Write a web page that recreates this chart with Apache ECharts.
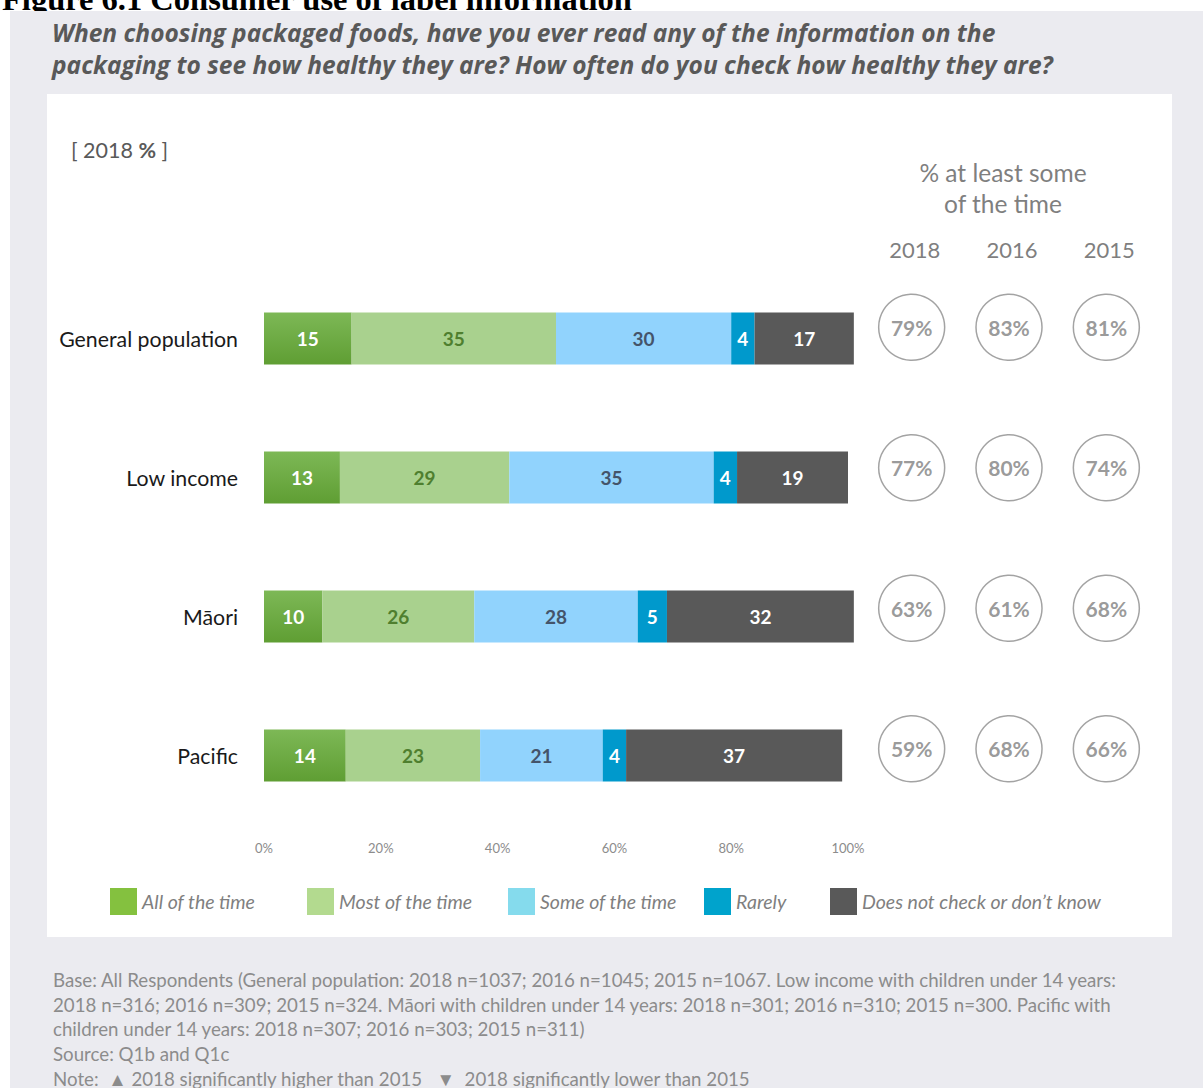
<!DOCTYPE html>
<html>
<head>
<meta charset="utf-8">
<script src="https://cdn.jsdelivr.net/npm/echarts@6/dist/echarts.min.js"></script>
<style>
  html, body { margin: 0; padding: 0; background: #ffffff; }
  #chart { width: 1203px; height: 1088px; }
</style>
</head>
<body>
<div id="chart"></div>
<script>
// Groups surveyed (top to bottom)
const groups = ['General population', 'Low income', 'Māori', 'Pacific'];

// 2018 responses, % of each group
const allOfTime   = [15, 13, 10, 14];
const mostOfTime  = [35, 29, 26, 23];
const someOfTime  = [30, 35, 28, 21];
const rarely      = [4, 4, 5, 4];
const doesNotCheck = [17, 19, 32, 37];

// Percentage axis ticks
const pctTicks = [0, 20, 40, 60, 80, 100];

// % checking at least some of the time, by survey year
const years = ['2018', '2016', '2015'];
const atLeastSome2018 = [79, 77, 63, 59];
const atLeastSome2016 = [83, 80, 61, 68];
const atLeastSome2015 = [81, 74, 68, 66];

const seriesNames = ['All of the time', 'Most of the time', 'Some of the time', 'Rarely', 'Does not check or don\u2019t know'];

const footnoteLines = [
  'Base: All Respondents (General population: 2018 n=1037; 2016 n=1045; 2015 n=1067. Low income with children under 14 years:',
  '2018 n=316; 2016 n=309; 2015 n=324. M\u0101ori with children under 14 years: 2018 n=301; 2016 n=310; 2015 n=300. Pacific with',
  'children under 14 years: 2018 n=307; 2016 n=303; 2015 n=311)',
  'Source: Q1b and Q1c',
  'Note:  \u25B2 2018 significantly higher than 2015   \u25BC  2018 significantly lower than 2015'
];

const FONT = 'Lato, "Open Sans", sans-serif';

const chart = echarts.init(document.getElementById('chart'), null, { renderer: 'svg' });

const barColors = [
  new echarts.graphic.LinearGradient(0, 0, 0, 1, [
    { offset: 0, color: '#7db856' },
    { offset: 1, color: '#5f9e33' }
  ]),
  '#a9d18e',
  '#91d3fd',
  '#0099cc',
  '#595959'
];
const legendColors = ['#84c13f', '#b3da8f', '#85dbed', '#00a3cc', '#595959'];
const labelColors = ['#ffffff', '#4f7f2f', '#44546a', '#ffffff', '#ffffff'];
const barData = [allOfTime, mostOfTime, someOfTime, rarely, doesNotCheck];

const barSeries = barData.map((vals, i) => ({
  name: seriesNames[i],
  type: 'bar',
  stack: 'total',
  xAxisIndex: 0,
  yAxisIndex: 0,
  barWidth: 52,
  clip: false,
  z: 3,
  data: vals,
  itemStyle: { color: barColors[i] },
  emphasis: { disabled: true },
  label: {
    show: true,
    position: 'inside',
    fontFamily: FONT,
    fontWeight: 'bold',
    fontSize: 19,
    color: labelColors[i],
    formatter: '{c}'
  }
}));

const yearSeries = [atLeastSome2018, atLeastSome2016, atLeastSome2015];
const circleData = [];
yearSeries.forEach((vals, yi) => {
  vals.forEach((v, gi) => circleData.push([years[yi], groups[gi], v]));
});

const legendLefts = [110, 307, 508, 704, 830];

const option = {
  animation: false,
  backgroundColor: '#ffffff',
  grid: [
    { left: 264, right: 355, top: 269, bottom: 263, containLabel: false, outerBoundsMode: 'none' },
    { left: 863, width: 292, top: 257, height: 562, containLabel: false, outerBoundsMode: 'none' }
  ],
  xAxis: [
    {
      type: 'value', gridIndex: 0, min: 0, max: 100, interval: 20, z: 6,
      axisLine: { show: false }, axisTick: { show: false }, splitLine: { show: false },
      axisLabel: {
        margin: 16, fontFamily: FONT, fontSize: 13, color: '#8c8c8c',
        customValues: pctTicks,
        formatter: v => v + '%'
      }
    },
    {
      type: 'category', gridIndex: 1, data: years, position: 'top', z: 6,
      axisLine: { show: false }, axisTick: { show: false }, splitLine: { show: false },
      axisLabel: { margin: -3, fontFamily: FONT, fontSize: 22, color: '#7f7f7f', padding: [0, 0, 0, 6] }
    }
  ],
  yAxis: [
    {
      type: 'category', gridIndex: 0, data: groups, inverse: true, z: 6,
      axisLine: { show: false }, axisTick: { show: false }, splitLine: { show: false },
      axisLabel: { margin: 26, fontFamily: FONT, fontSize: 21.3, color: '#1a1a1a', padding: [0, 0, 7, 0] }
    },
    {
      type: 'category', gridIndex: 1, data: groups, inverse: true, show: false
    }
  ],
  legend: seriesNames.map((name, i) => ({
    data: [{ name: name, itemStyle: { color: legendColors[i] } }],
    left: legendLefts[i],
    top: 888,
    z: 6,
    icon: 'rect',
    itemWidth: 27,
    itemHeight: 27,
    selectedMode: false,
    padding: 0,
    textStyle: { fontFamily: FONT, fontStyle: 'italic', fontSize: 19.5, color: '#7f7f7f' }
  })),
  graphic: [
    {
      type: 'text', z: 0, x: 2, y: 15,
      style: {
        text: 'Figure 6.1 Consumer use of label information',
        font: 'bold 32.5px "Liberation Serif", serif',
        fill: '#000000', verticalAlign: 'bottom'
      }
    },
    {
      type: 'rect', z: 1, shape: { x: 10, y: 11, width: 1193, height: 1077 },
      style: { fill: '#ebebf0' }
    },
    {
      type: 'rect', z: 1, shape: { x: 47, y: 94, width: 1125, height: 843 },
      style: { fill: '#ffffff' }
    },
    {
      type: 'text', z: 2, x: 52, y: 48,
      style: {
        text: 'When choosing packaged foods, have you ever read any of the information on the\npackaging to see how healthy they are? How often do you check how healthy they are?',
        font: 'italic bold 24.5px "Open Sans", sans-serif', lineHeight: 32,
        fill: '#595959', verticalAlign: 'middle'
      }
    },
    {
      type: 'text', z: 2, x: 71, y: 150,
      style: {
        text: '[ 2018 {b|%} ]',
        font: '21.5px ' + FONT, fill: '#595959', verticalAlign: 'middle',
        rich: { b: { fontFamily: FONT, fontSize: 21.5, fontWeight: 'bold', fill: '#595959' } }
      }
    },
    {
      type: 'text', z: 2, x: 1003, y: 188,
      style: {
        text: '% at least some\nof the time',
        font: '24.5px ' + FONT, lineHeight: 31, fill: '#7f7f7f',
        align: 'center', verticalAlign: 'middle'
      }
    },
    ...footnoteLines.map((line, i) => ({
      type: 'text', z: 2, x: 53, y: 980 + i * 24.7,
      style: {
        text: line, font: '18.7px ' + FONT, fill: '#8c8c8c', verticalAlign: 'middle'
      }
    }))
  ],
  series: [
    ...barSeries,
    {
      type: 'scatter',
      xAxisIndex: 1,
      yAxisIndex: 1,
      z: 3,
      symbol: 'circle',
      symbolSize: 66,
      data: circleData,
      itemStyle: { color: '#ffffff', borderColor: '#8c8c8c', borderWidth: 1.5 },
      emphasis: { disabled: true },
      label: {
        show: true, position: 'inside',
        fontFamily: FONT, fontWeight: 'bold', fontSize: 21, color: '#7f7f7f',
        formatter: p => p.value[2] + '%'
      }
    }
  ]
};

chart.setOption(option);
</script>
</body>
</html>
